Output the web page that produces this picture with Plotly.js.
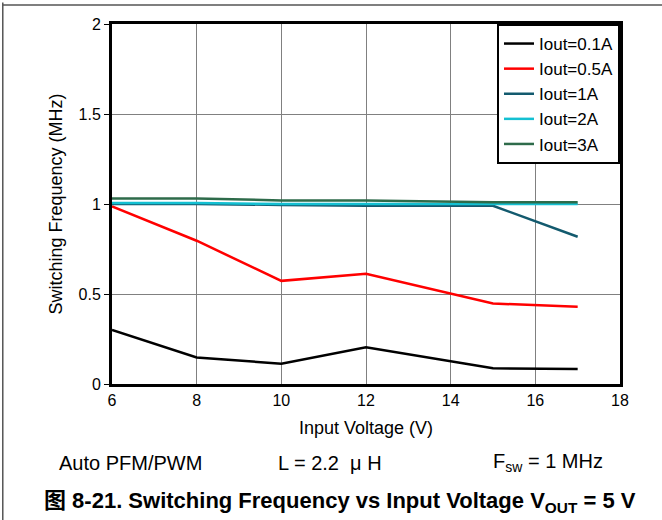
<!DOCTYPE html>
<html>
<head>
<meta charset="utf-8">
<script src="https://cdn.plot.ly/plotly-3.0.1.min.js"></script>
<style>html,body{margin:0;padding:0;background:#fff;}#chart{width:662px;height:520px;}</style>
</head>
<body>
<div id="chart"></div>
<script>
const vin = [6, 8, 10, 12, 15, 17];
const iout01 = [0.30, 0.147, 0.113, 0.204, 0.087, 0.083];
const iout05 = [0.987, 0.796, 0.573, 0.612, 0.447, 0.429];
const iout1 = [1.0, 1.0, 0.995, 0.99, 0.99, 0.818];
const iout2 = [1.005, 1.005, 1.0, 1.0, 1.0, 1.0];
const iout3 = [1.03, 1.03, 1.02, 1.02, 1.01, 1.01];
const seriesNames = ['Iout=0.1A', 'Iout=0.5A', 'Iout=1A', 'Iout=2A', 'Iout=3A'];
const seriesColors = ['#000000', '#ff0000', '#135a6e', '#14c0d2', '#2e6b4a'];
const xTicks = [6, 8, 10, 12, 14, 16, 18];
const yTicks = [0, 0.5, 1, 1.5, 2];
const yTickText = ['0', '0.5', '1', '1.5', '2'];

const FONT = 'Liberation Sans, Arial, Helvetica, Noto Sans CJK SC, sans-serif';
const allY = [iout01, iout05, iout1, iout2, iout3];
const traces = allY.map((ys, i) => ({
  x: vin, y: ys, type: 'scatter', mode: 'lines', name: seriesNames[i],
  line: {color: seriesColors[i], width: 2.5}
}));

const layout = {
  width: 662, height: 520,
  margin: {l: 112, r: 42, t: 24, b: 136},
  paper_bgcolor: '#fff', plot_bgcolor: '#fff',
  font: {family: FONT, size: 16, color: '#000'},
  showlegend: true,
  legend: {
    x: 1, xanchor: 'right', y: 1, yanchor: 'top',
    bgcolor: '#fff', bordercolor: '#000', borderwidth: 2,
    font: {family: FONT, size: 17, color: '#000'},
    tracegroupgap: 0
  },
  xaxis: {
    range: [6, 18], tickvals: xTicks, ticktext: xTicks.map(String),
    showgrid: true, gridcolor: '#808080', gridwidth: 1,
    showline: true, linecolor: '#000', linewidth: 3, mirror: true,
    ticks: '', zeroline: false,
    tickfont: {family: FONT, size: 16},
    title: {text: 'Input Voltage (V)', font: {family: FONT, size: 18}, standoff: 14}
  },
  yaxis: {
    range: [0, 2], tickvals: yTicks, ticktext: yTickText,
    showgrid: true, gridcolor: '#808080', gridwidth: 1,
    showline: true, linecolor: '#000', linewidth: 3, mirror: true,
    ticks: 'outside', ticklen: 5, tickcolor: '#000', zeroline: false,
    tickfont: {family: FONT, size: 16},
    title: {text: 'Switching Frequency (MHz)', font: {family: FONT, size: 18}, standoff: 12}
  },
  shapes: [
    {type: 'line', xref: 'paper', yref: 'paper', x0: -0.215, x1: -0.215, y0: 1.06, y1: -0.4, line: {color: '#555', width: 1.5}},
    {type: 'line', xref: 'paper', yref: 'paper', x0: -0.215, x1: 1.09, y0: 1.053, y1: 1.053, line: {color: '#555', width: 1.5}}
  ],
  annotations: [
    {xref: 'paper', yref: 'paper', x: 0.037, y: -0.219, xanchor: 'center', yanchor: 'middle', text: 'Auto PFM/PWM', showarrow: false, font: {family: FONT, size: 20}},
    {xref: 'paper', yref: 'paper', x: 0.429, y: -0.219, xanchor: 'center', yanchor: 'middle', text: 'L = 2.2  μ H', showarrow: false, font: {family: FONT, size: 20}},
    {xref: 'paper', yref: 'paper', x: 0.858, y: -0.219, xanchor: 'center', yanchor: 'middle', text: 'F<sub>sw</sub> = 1 MHz', showarrow: false, font: {family: FONT, size: 20}},
    {xref: 'paper', yref: 'paper', x: 0.449, y: -0.328, xanchor: 'center', yanchor: 'middle', text: '<b>图 8-21. Switching Frequency vs Input Voltage V<sub>OUT</sub> = 5 V</b>', showarrow: false, font: {family: FONT, size: 22}}
  ]
};

Plotly.newPlot('chart', traces, layout, {displayModeBar: false, staticPlot: true});
</script>
</body>
</html>
